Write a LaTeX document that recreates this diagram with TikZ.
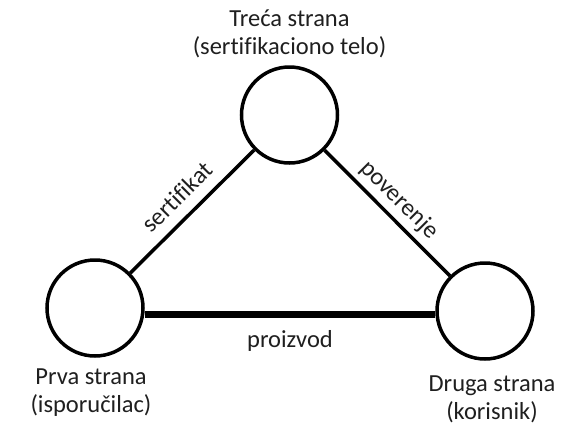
\documentclass[tikz,border=0pt]{standalone}
\usepackage{fontspec}
\setmainfont{Carlito}[Ligatures={NoCommon}]
\begin{document}
\begin{tikzpicture}[x=1pt,y=-1pt,
  party/.style={circle,draw,line width=3.5pt,minimum size=96pt,inner sep=0pt},
  link/.style={line width=3.5pt},
  thick link/.style={line width=7pt},
  lbl/.style={font=\fontsize{24.5}{28}\selectfont,text=black!88,align=center,inner sep=0pt}]
\useasboundingbox (0,0) rectangle (574,424);
\node[party] (T) at (289.5,115) {};
\node[party] (P) at (95,308) {};
\node[party] (D) at (485,311) {};
\draw[link] (T) -- (P);
\draw[link] (T) -- (D);
\draw[thick link] ([yshift=-6pt]P.east) -- ([yshift=-3pt]D.west);
\node[lbl] (tT) at (289.5,34) {Treća strana\\(sertifikaciono telo)};
\node[lbl] (tP) at (91,393) {Prva strana\\(isporučilac)};
\node[lbl] (tD) at (492,399) {Druga strana\\(korisnik)};
\node[lbl] (lp) at (290,341) {proizvod};
\node[lbl,rotate=45] (ls) at (177,197) {sertifikat};
\node[lbl,rotate=-45] (lv) at (399,200) {poverenje};
\end{tikzpicture}
\end{document}
